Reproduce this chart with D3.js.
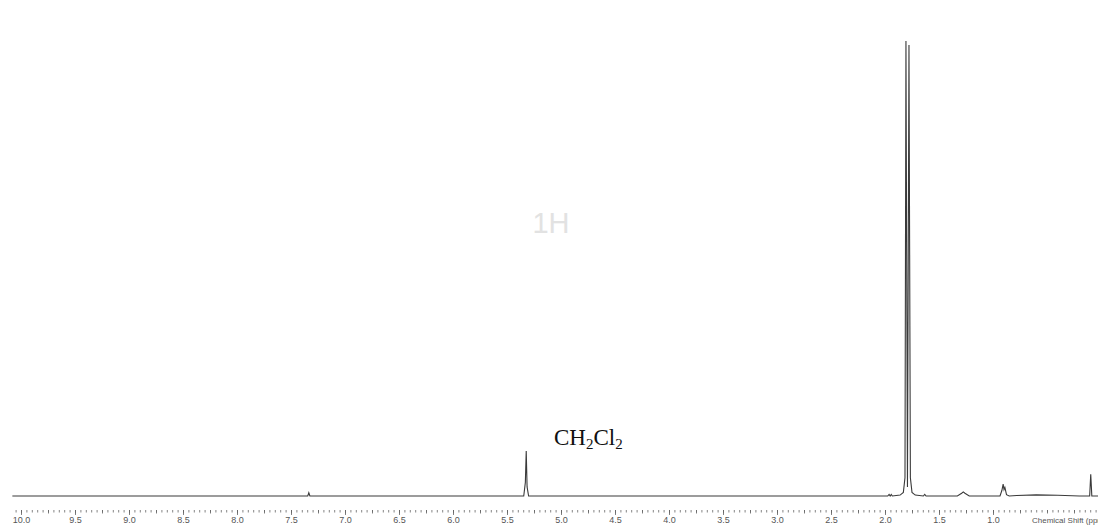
<!DOCTYPE html>
<html>
<head>
<meta charset="utf-8">
<script src="https://cdn.jsdelivr.net/npm/d3@7"></script>
<style>
  body { margin: 0; background: #fff; overflow: hidden; }
  svg { display: block; }
</style>
</head>
<body>
<svg id="chart" width="1098" height="525"></svg>
<script>
// spectrum trace: [ppm, intensity (tallest line = 100)]
var shifts = [10.08, 7.345, 7.335, 7.325, 5.345, 5.33, 5.322, 5.314, 5.30,
    1.975, 1.962, 1.952, 1.942, 1.932, 1.86, 1.83, 1.815, 1.806, 1.792, 1.778,
    1.765, 1.75, 1.72, 1.645, 1.632, 1.62, 1.33, 1.29, 1.275, 1.26, 1.22,
    0.935, 0.918, 0.906, 0.898, 0.89, 0.875, 0.85, 0.78, 0.6, 0.4, 0.2,
    0.105, 0.095, 0.085, 0.0];
var intensity = [0, 0, 0.7, 0, 0, 3, 9.9, 2, 0,
    0, 0.35, 0, 0.35, 0, 0.2, 0.8, 4, 100, 2, 99.1,
    4, 0.8, 0.2, 0, 0.35, 0, 0, 0.6, 0.9, 0.6, 0,
    0, 1.2, 2.6, 1.4, 1.9, 0.3, 0, 0.1, 0.25, 0.15, 0,
    0, 4.8, 0, 0];

var labelPpm = [10.0, 9.5, 9.0, 8.5, 8.0, 7.5, 7.0, 6.5, 6.0, 5.5, 5.0, 4.5, 4.0, 3.5, 3.0, 2.5, 2.0, 1.5, 1.0];
var minorPpm = d3.range(201).map(function(i) { return +(10.05 - i * 0.05).toFixed(2); });
var midPpm = d3.range(41).map(function(i) { return +(10.0 - i * 0.25).toFixed(2); });

var svg = d3.select("#chart");

var x = d3.scaleLinear().domain([10, 1]).range([21, 993]);
var y = d3.scaleLinear().domain([0, 100]).range([496, 41]);

// watermark
svg.append("text")
    .attr("x", 551)
    .attr("y", 233)
    .attr("text-anchor", "middle")
    .style("font-family", "Liberation Sans, Arial, sans-serif")
    .style("font-size", "29px")
    .style("fill", "#e2e2e2")
    .text("1H");

// ticks
var axisG = svg.append("g").attr("transform", "translate(0,510)");
axisG.append("g")
    .call(d3.axisBottom(x).tickValues(minorPpm).tickSize(2.5).tickFormat(""));
axisG.append("g")
    .call(d3.axisBottom(x).tickValues(midPpm).tickSize(3.5).tickFormat(""));
axisG.append("g")
    .call(d3.axisBottom(x).tickValues(labelPpm).tickSize(5).tickPadding(2)
        .tickFormat(d3.format(".1f")));
axisG.selectAll(".domain").remove();
axisG.selectAll("line").attr("stroke", "#666").attr("stroke-width", 0.8);
axisG.selectAll("text")
    .style("font-family", "Liberation Sans, Arial, sans-serif")
    .style("font-size", "9px")
    .style("fill", "#555");

svg.append("text")
    .attr("x", 1032)
    .attr("y", 523)
    .style("font-family", "Liberation Sans, Arial, sans-serif")
    .style("font-size", "8px")
    .style("fill", "#555")
    .text("Chemical Shift (ppm)");

// spectrum
var line = d3.line()
    .x(function(d) { return x(d[0]); })
    .y(function(d) { return y(d[1]); });

svg.append("path")
    .datum(d3.zip(shifts, intensity))
    .attr("d", line)
    .attr("fill", "none")
    .attr("stroke", "#3a3a3a")
    .attr("stroke-width", 1.1);

// solvent label
var lab = svg.append("text")
    .attr("x", 554)
    .attr("y", 445)
    .style("font-family", "Liberation Serif, Times New Roman, serif")
    .style("font-size", "23px")
    .style("fill", "#111");
lab.append("tspan").text("CH");
lab.append("tspan").attr("dy", 4).style("font-size", "15px").text("2");
lab.append("tspan").attr("dy", -4).text("Cl");
lab.append("tspan").attr("dy", 4).style("font-size", "15px").text("2");
</script>
</body>
</html>
